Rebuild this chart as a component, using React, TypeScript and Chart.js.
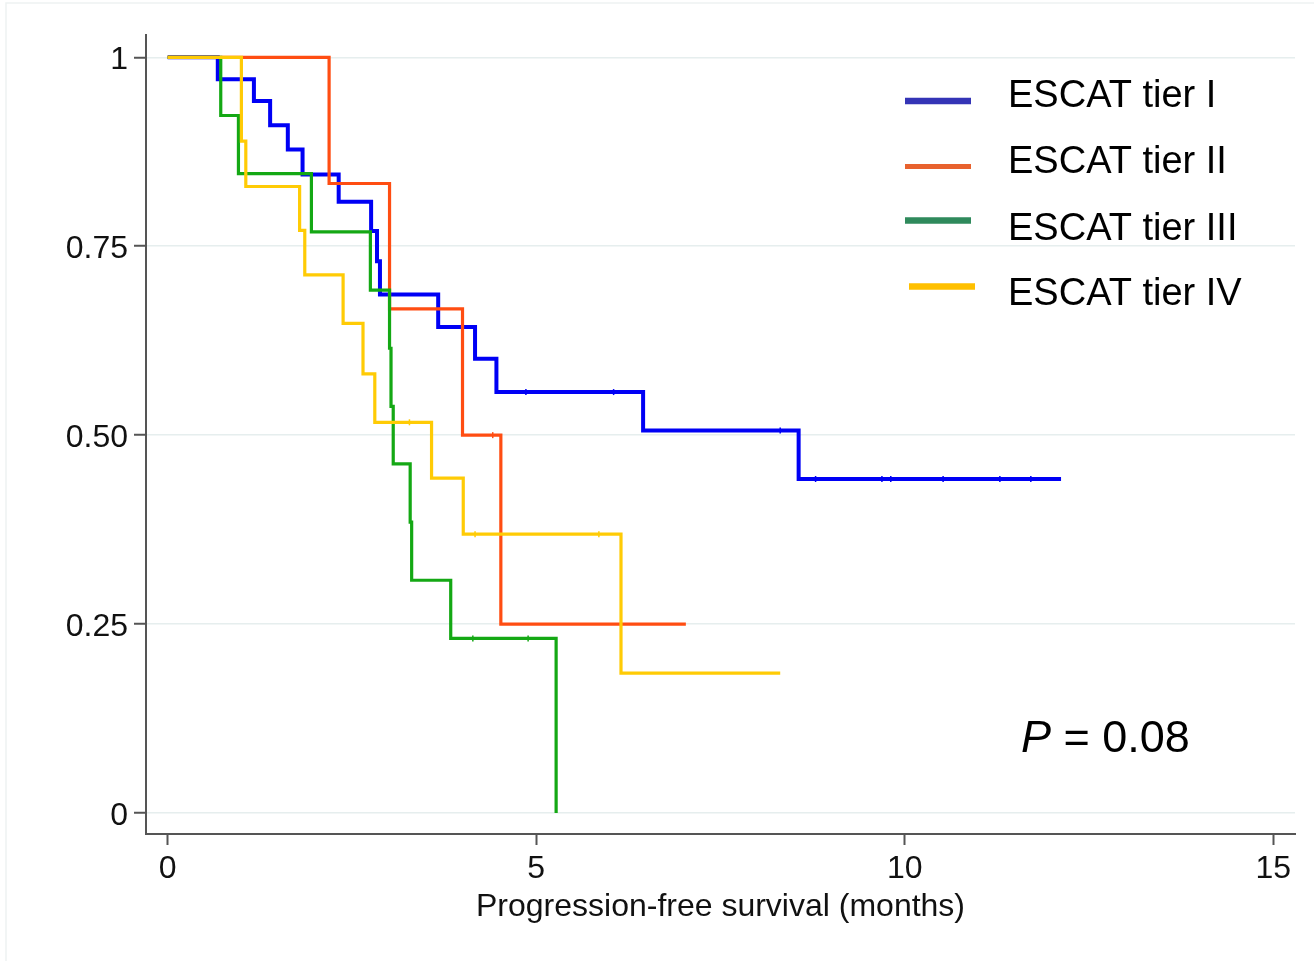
import { useEffect, useRef } from "react";
import { Chart, registerables } from "chart.js";

Chart.register(...registerables);

// ---------- data ----------
const seriesNames = ["ESCAT tier I", "ESCAT tier II", "ESCAT tier III", "ESCAT tier IV"];

const tier1Times = [0, 0.68, 1.17, 1.39, 1.63, 1.83, 2.32, 2.76, 2.84, 2.88, 3.67, 4.17, 4.46, 6.45, 8.56, 12.12];
const tier1Surv = [1, 0.971, 0.942, 0.91, 0.878, 0.845, 0.809, 0.77, 0.73, 0.686, 0.643, 0.601, 0.557, 0.506, 0.442, 0.442];
const tier1Censored = [4.86, 6.05, 8.31, 8.79, 9.69, 9.81, 10.52, 11.29, 11.71];

const tier2Times = [0, 2.19, 3.01, 4.0, 4.52, 7.03];
const tier2Surv = [1, 0.833, 0.667, 0.5, 0.25, 0.25];
const tier2Censored = [4.41];

const tier3Times = [0, 0.72, 0.96, 1.95, 2.75, 3.01, 3.03, 3.06, 3.29, 3.31, 3.84, 5.27];
const tier3Surv = [1, 0.923, 0.846, 0.769, 0.692, 0.615, 0.538, 0.462, 0.385, 0.308, 0.231, 0];
const tier3Censored = [4.14, 4.89];

const tier4Times = [0, 1.0, 1.06, 1.79, 1.86, 2.38, 2.65, 2.81, 3.58, 4.01, 6.15, 8.31];
const tier4Surv = [1, 0.889, 0.829, 0.771, 0.712, 0.648, 0.581, 0.517, 0.443, 0.369, 0.185, 0.185];
const tier4Censored = [3.28, 4.17, 5.85];

const xTickValues = [0, 5, 10, 15];
const xTickLabels = ["0", "5", "10", "15"];
const yTickValues = [0, 0.25, 0.5, 0.75, 1];
const yTickLabels = ["0", "0.25", "0.50", "0.75", "1"];

const xAxisTitle = "Progression-free survival (months)";
const pValueLabel = "P";
const pValueText = " = 0.08";

// ---------- styles ----------
const lineColors = ["#0000f5", "#ff4d12", "#14a814", "#ffcb05"];
const legendColors = ["#3434b6", "#e8622e", "#2f8a5c", "#ffc000"];
const lineWidths = [4, 3.2, 3.2, 3.2];
const FONT = "'Liberation Sans', Arial, Helvetica, sans-serif";

function survivalAt(times: number[], surv: number[], t: number) {
  let s = surv[0];
  for (let i = 0; i < times.length; i++) {
    if (times[i] <= t) s = surv[i];
  }
  return s;
}

const overlayPlugin = {
  id: "overlay",
  afterDraw(chart: any) {
    const ctx = chart.ctx as CanvasRenderingContext2D;
    ctx.save();
    // faint outer frame (top + left)
    ctx.strokeStyle = "#eef2f2";
    ctx.lineWidth = 1.5;
    ctx.beginPath();
    ctx.moveTo(6, 961);
    ctx.lineTo(6, 3);
    ctx.lineTo(1314, 3);
    ctx.stroke();

    // legend
    const swatches = [
      { x: 905, y: 101, h: 6.5 },
      { x: 905, y: 166.5, h: 5 },
      { x: 905, y: 220.5, h: 6.5 },
      { x: 909, y: 286.5, h: 6.5 },
    ];
    const baselines = [107, 173, 240, 305];
    ctx.font = `38px ${FONT}`;
    ctx.textBaseline = "alphabetic";
    ctx.textAlign = "left";
    seriesNames.forEach((name, i) => {
      const s = swatches[i];
      ctx.fillStyle = legendColors[i];
      ctx.fillRect(s.x, s.y - s.h / 2, 66, s.h);
      ctx.fillStyle = "#000";
      ctx.fillText(name, 1008, baselines[i]);
    });

    // P value
    ctx.fillStyle = "#000";
    ctx.font = `italic 45px ${FONT}`;
    ctx.fillText(pValueLabel, 1021, 752);
    const w = ctx.measureText(pValueLabel).width;
    ctx.font = `45px ${FONT}`;
    ctx.fillText(pValueText, 1021 + w, 752);
    ctx.restore();
  },
};

export default function App() {
  const canvasRef = useRef<HTMLCanvasElement | null>(null);

  useEffect(() => {
    if (!canvasRef.current) return;
    const series = [
      { times: tier1Times, surv: tier1Surv, cens: tier1Censored },
      { times: tier2Times, surv: tier2Surv, cens: tier2Censored },
      { times: tier3Times, surv: tier3Surv, cens: tier3Censored },
      { times: tier4Times, surv: tier4Surv, cens: tier4Censored },
    ];
    const drawOrder = [3, 2, 1, 0];
    const datasets: any[] = [];
    series.forEach((s, i) => {
      datasets.push({
        label: seriesNames[i],
        data: s.times.map((t, k) => ({ x: t, y: s.surv[k] })),
        borderColor: lineColors[i],
        backgroundColor: lineColors[i],
        borderWidth: lineWidths[i],
        stepped: true,
        pointRadius: 0,
        fill: false,
        order: drawOrder[i],
      });
      datasets.push({
        label: seriesNames[i] + " (censored)",
        data: s.cens.map((t) => ({ x: t, y: survivalAt(s.times, s.surv, t) })),
        showLine: false,
        pointStyle: "line",
        rotation: 90,
        pointRadius: 3,
        borderColor: lineColors[i],
        backgroundColor: lineColors[i],
        pointBorderWidth: 1.5,
        order: drawOrder[i],
      });
    });

    const chart = new Chart(canvasRef.current, {
      type: "line",
      data: { datasets },
      plugins: [overlayPlugin],
      options: {
        animation: false,
        responsive: false,
        maintainAspectRatio: false,
        layout: { padding: { top: 35, right: 19, left: 0, bottom: 0 } },
        plugins: {
          legend: { display: false },
          tooltip: { enabled: false },
        },
        scales: {
          x: {
            type: "linear",
            min: -0.294,
            max: 15.294,
            afterFit: (scale: any) => {
              scale.height = 127;
            },
            afterBuildTicks: (axis: any) => {
              axis.ticks = xTickValues.map((v) => ({ value: v }));
            },
            ticks: {
              autoSkip: false,
              maxRotation: 0,
              padding: 5,
              color: "#111",
              font: { family: FONT, size: 32 },
              callback: (_v: any, index: number) => xTickLabels[index],
            },
            grid: {
              drawOnChartArea: false,
              drawTicks: true,
              tickLength: 11,
              tickColor: "#555",
              tickWidth: 2,
            },
            border: { display: true, color: "#555", width: 2 },
            title: {
              display: true,
              text: xAxisTitle,
              color: "#111",
              font: { family: FONT, size: 32 },
              padding: { top: 0, bottom: 35 },
            },
          },
          y: {
            type: "linear",
            min: -0.0278,
            max: 1.0295,
            afterFit: (scale: any) => {
              scale.width = 146;
            },
            afterBuildTicks: (axis: any) => {
              axis.ticks = yTickValues.map((v) => ({ value: v }));
            },
            ticks: {
              autoSkip: false,
              padding: 6,
              labelOffset: 3,
              color: "#111",
              font: { family: FONT, size: 32 },
              callback: (_v: any, index: number) => yTickLabels[index],
            },
            grid: {
              drawOnChartArea: true,
              color: "#e6eeee",
              lineWidth: 1.5,
              tickLength: 12,
              tickColor: "#555",
              tickWidth: 2,
            },
            border: { display: true, color: "#555", width: 2 },
          },
        },
      } as any,
    });
    return () => chart.destroy();
  }, []);

  return (
    <div style={{ position: "absolute", left: 0, top: 0, width: 1314, height: 961, background: "#fff" }}>
      <canvas ref={canvasRef} width={1314} height={961} style={{ width: 1314, height: 961, display: "block" }} />
    </div>
  );
}
